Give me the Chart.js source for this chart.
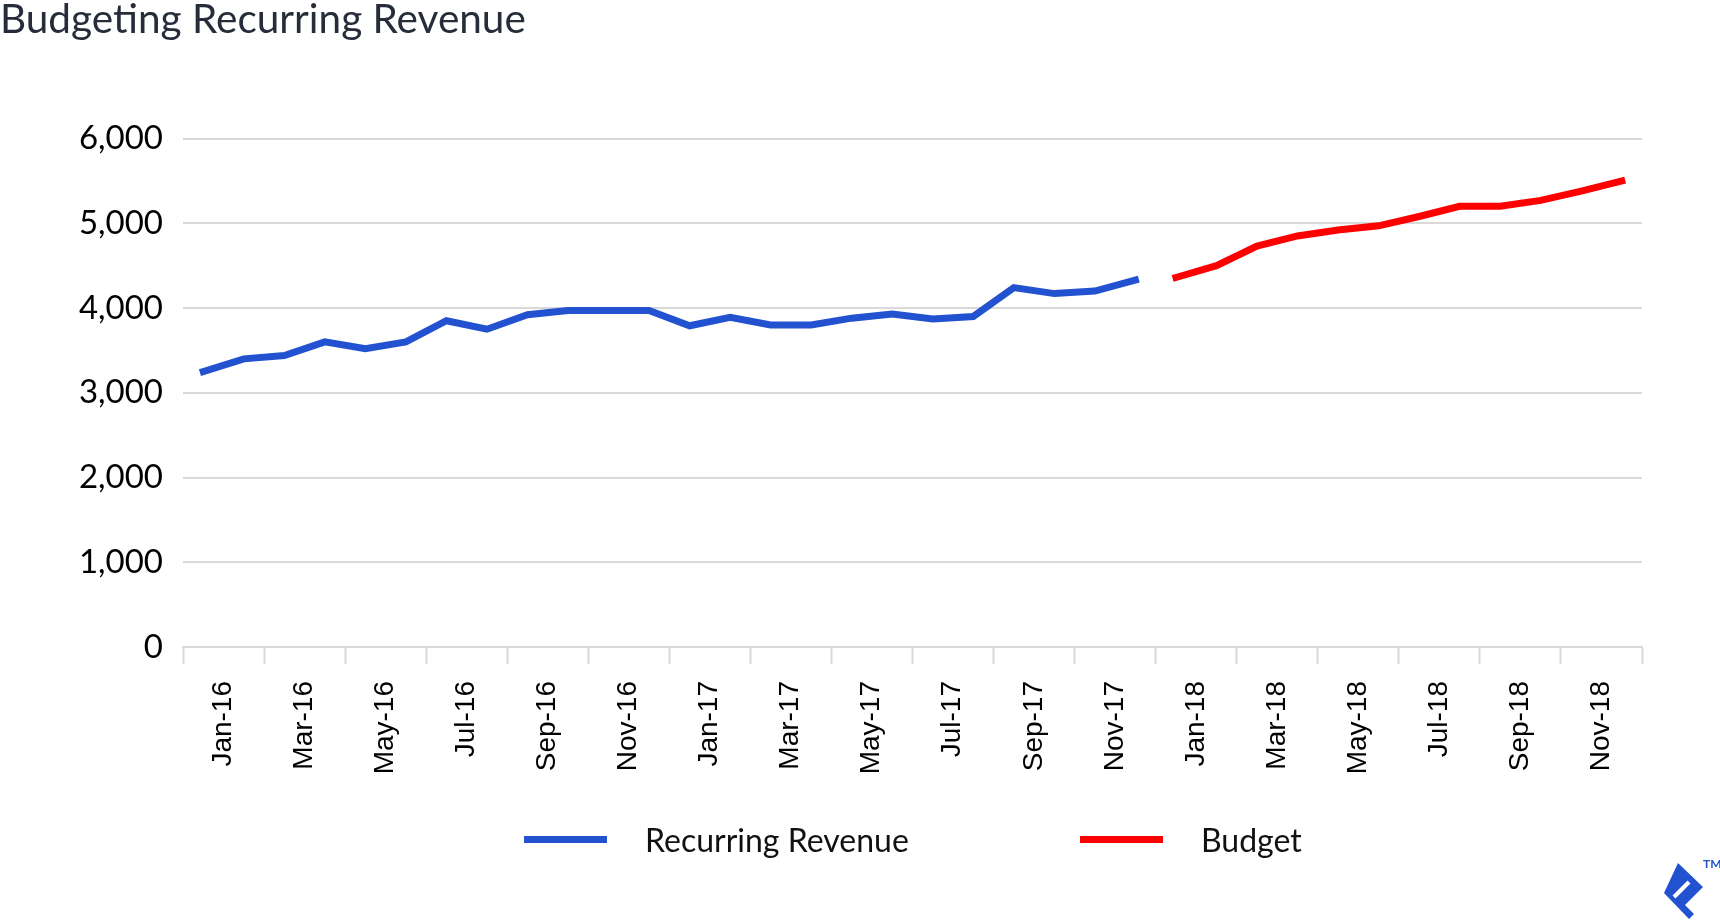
<!DOCTYPE html>
<html>
<head>
<meta charset="utf-8">
<title>Budgeting Recurring Revenue</title>
<script src="https://cdn.jsdelivr.net/npm/chart.js@4.4.1/dist/chart.umd.min.js"></script>
<style>
    html, body { margin: 0; padding: 0; background: #fff; }
    body { width: 1720px; height: 922px; position: relative; overflow: hidden; font-family: Lato, sans-serif; }
    #chart { position: absolute; left: 0; top: 0; }
    .legend-item { position: absolute; top: 820px; height: 38px; display: flex; align-items: center; font-size: 32px; color: #111; }
    .legend-item .swatch { width: 83px; height: 7px; margin-right: 38px; }
    #logo { position: absolute; left: 1640px; top: 850px; }
</style>
</head>
<body>
<canvas id="chart" width="1720" height="922"></canvas>
<div id="legend"></div>
<svg id="logo" width="80" height="72" viewBox="0 0 80 72">
    <polygon points="38,13 63,37 45,55 54,64 49,69 24,43" fill="#2352d0"/>
    <line x1="34" y1="47" x2="49" y2="32" stroke="#fff" stroke-width="4"/>
    <text x="63" y="18" font-size="12" font-weight="bold" fill="#2352d0" font-family="Lato">TM</text>
</svg>
<script>
// months on the x axis (labels shown every other month)
const months = [
    'Jan-16', 'Feb-16', 'Mar-16', 'Apr-16', 'May-16', 'Jun-16', 'Jul-16', 'Aug-16', 'Sep-16', 'Oct-16', 'Nov-16', 'Dec-16',
    'Jan-17', 'Feb-17', 'Mar-17', 'Apr-17', 'May-17', 'Jun-17', 'Jul-17', 'Aug-17', 'Sep-17', 'Oct-17', 'Nov-17', 'Dec-17',
    'Jan-18', 'Feb-18', 'Mar-18', 'Apr-18', 'May-18', 'Jun-18', 'Jul-18', 'Aug-18', 'Sep-18', 'Oct-18', 'Nov-18', 'Dec-18'
];

// actual recurring revenue, Jan-16 .. Dec-17
const recurringRevenue = [
    3250, 3400, 3440, 3600, 3520, 3600, 3850, 3750, 3920, 3970, 3970, 3970,
    3790, 3890, 3800, 3800, 3880, 3930, 3870, 3900, 4240, 4170, 4200, 4330
];

// budget, Jan-18 .. Dec-18
const budget = [4360, 4500, 4730, 4850, 4920, 4970, 5080, 5200, 5200, 5270, 5380, 5500];

const yTicks = [0, 1000, 2000, 3000, 4000, 5000, 6000];

const BLUE = '#2352d0';
const RED = '#ff0000';
const GRID = '#d9d9d9';

const seriesNames = ['Recurring Revenue', 'Budget'];
const seriesColors = [BLUE, RED];

// pad each series with nulls so they sit on their own months
const revenueData = recurringRevenue.concat(budget.map(() => null));
const budgetData = recurringRevenue.map(() => null).concat(budget);

const ctx = document.getElementById('chart').getContext('2d');

new Chart(ctx, {
    type: 'line',
    data: {
        labels: months,
        datasets: [
            {
                label: seriesNames[0],
                data: revenueData,
                borderColor: BLUE,
                backgroundColor: BLUE,
                borderWidth: 7,
                borderCapStyle: 'square',
                pointRadius: 0,
                tension: 0,
                spanGaps: false
            },
            {
                label: seriesNames[1],
                data: budgetData,
                borderColor: RED,
                backgroundColor: RED,
                borderWidth: 7,
                borderCapStyle: 'square',
                pointRadius: 0,
                tension: 0,
                spanGaps: false
            }
        ]
    },
    options: {
        responsive: false,
        animation: false,
        devicePixelRatio: 1,
        layout: { padding: { left: 0, right: 78, top: 0, bottom: 0 } },
        plugins: {
            legend: { display: false },
            tooltip: { enabled: false },
            title: {
                display: true,
                text: 'Budgeting Recurring Revenue',
                align: 'start',
                color: '#262c3a',
                font: { family: 'Lato', size: 40.5, weight: 'normal', lineHeight: 1 },
                padding: { top: 0, bottom: 98 }
            }
        },
        scales: {
            x: {
                type: 'category',
                offset: true,
                grid: {
                    offset: true,
                    drawOnChartArea: false,
                    drawTicks: true,
                    tickLength: 17,
                    tickWidth: 2,
                    tickColor: (c) => (c.index === undefined || c.index % 2 === 0) ? GRID : 'rgba(0,0,0,0)'
                },
                border: { display: true, color: GRID, width: 2 },
                ticks: {
                    autoSkip: false,
                    minRotation: 90,
                    maxRotation: 90,
                    padding: 17,
                    labelOffset: 20,
                    color: '#000',
                    font: { family: '"Liberation Sans", Arial, sans-serif', size: 28 },
                    callback: function (value, index) {
                        return index % 2 === 0 ? this.getLabelForValue(value) : '';
                    }
                },
                afterFit: (scale) => { scale.height = 922 - 647; }
            },
            y: {
                min: 0,
                max: 6000,
                afterBuildTicks: (scale) => { scale.ticks = yTicks.map(v => ({ value: v })); },
                grid: { color: GRID, lineWidth: 2, drawTicks: false },
                border: { display: false },
                ticks: {
                    padding: 20,
                    color: '#000',
                    font: { family: 'Lato', size: 33 },
                    callback: (v) => v.toLocaleString('en-US')
                },
                afterFit: (scale) => { scale.width = 183; }
            }
        }
    }
});

// legend drawn as html below the chart
const legend = document.getElementById('legend');
const legendLeft = [524, 1080];
seriesNames.forEach((name, i) => {
    const item = document.createElement('div');
    item.className = 'legend-item';
    item.style.left = legendLeft[i] + 'px';
    item.innerHTML = `<span class="swatch" style="background:${seriesColors[i]}"></span><span>${name}</span>`;
    legend.appendChild(item);
});
</script>
</body>
</html>
